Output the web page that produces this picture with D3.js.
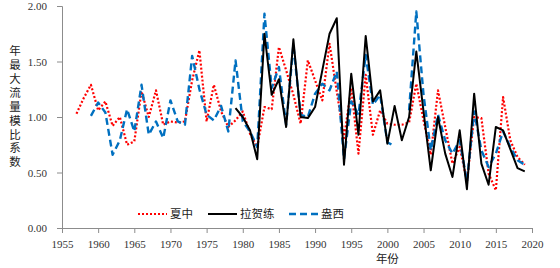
<!DOCTYPE html>
<html>
<head>
<meta charset="utf-8">
<script src="https://cdn.jsdelivr.net/npm/d3@7"></script>
<style>
  body { margin: 0; background: #fff; }
  .tick text { font-family: "Liberation Serif", "DejaVu Serif", serif; font-size: 11px; fill: #333; }
  .cjk { font-family: "Noto Sans CJK SC", sans-serif; font-size: 11.5px; fill: #222; }
</style>
</head>
<body>
<script>
// years per series
var yearsXZ = d3.range(1957, 2020),
    yearsYX = d3.range(1959, 2020),
    yearsLHL = d3.range(1979, 2020);

// 夏中
var xiazhong = [1.03, 1.17, 1.29, 1.06, 1.14, 0.92, 1.00, 0.75, 0.78, 1.23,
  1.00, 1.24, 0.93, 0.96, 0.95, 0.96, 1.33, 1.60, 0.96, 1.29,
  1.05, 0.91, 0.97, 1.05, 0.85, 0.73, 1.09, 1.07, 1.63, 1.42,
  1.20, 0.94, 1.51, 1.33, 1.15, 1.66, 1.23, 0.81, 1.26, 0.67,
  1.38, 0.84, 1.06, 0.94, 0.93, 0.93, 0.95, 1.30, 0.97, 0.66,
  1.24, 0.91, 0.58, 0.73, 0.42, 1.00, 0.99, 0.49, 0.34, 1.18,
  0.79, 0.64, 0.57];

// 盎西 (null = no value)
var angxi = [1.01, 1.13, 1.04, 0.66, 0.79, 1.07, 0.87, 1.29, 0.84, 0.96,
  0.81, 1.15, 0.96, 0.93, 1.55, 1.25, 1.02, 0.97, 1.10, 0.87,
  1.51, 0.96, 0.87, 0.73, 1.93, 1.26, 1.45, 0.93, 1.65, 1.02,
  1.00, 1.21, 1.30, 1.24, 1.41, 0.62, 1.14, 1.02, 1.56, 1.11,
  1.20, 0.77, 0.74, null, 1.06, 1.95, 1.20, 0.70, 1.02, 0.79,
  0.67, 0.79, 0.42, 1.05, 0.70, 0.55, 0.67, 0.87, 0.73, 0.61,
  0.57];

// 拉贺练
var lahelian = [1.08, 1.00, 0.88, 0.62, 1.75, 1.20, 1.34, 0.91, 1.70, 1.00,
  0.99, 1.09, 1.42, 1.75, 1.89, 0.57, 1.39, 0.84, 1.73, 1.14,
  1.24, 0.76, 1.10, 0.79, 1.00, 1.59, 1.05, 0.52, 1.00, 0.67,
  0.46, 0.88, 0.35, 1.21, 0.58, 0.39, 0.91, 0.88, 0.71, 0.54,
  0.51];

var xTicks = d3.range(1955, 2021, 5),
    yTicks = [0, 0.5, 1, 1.5, 2];

var names = ["夏中", "拉贺练", "盎西"];

var W = 560, H = 268;
var m = {left: 62, right: 28, top: 6, bottom: 40};

var x = d3.scaleLinear().domain([1955, 2020]).range([m.left, W - m.right]),
    y = d3.scaleLinear().domain([0, 2]).range([H - m.bottom, m.top]);

var svg = d3.select("body").append("svg")
    .attr("width", W)
    .attr("height", H);

// axes
var xAxis = svg.append("g")
    .attr("transform", "translate(0," + y(0) + ")")
    .call(d3.axisBottom(x).tickValues(xTicks).tickFormat(d3.format("d")).tickSizeOuter(0).tickSize(5));
var yAxis = svg.append("g")
    .attr("transform", "translate(" + x(1955) + ",0)")
    .call(d3.axisLeft(y).tickValues(yTicks).tickFormat(d3.format(".2f")).tickSizeOuter(0).tickSize(5).tickPadding(10));

svg.selectAll(".domain, .tick line").attr("stroke", "#8c8c8c");
xAxis.selectAll("text").attr("dy", "1.1em");

function mkLine(years) {
  return d3.line()
    .defined(function(d) { return d != null; })
    .x(function(d, i) { return x(years[i]); })
    .y(function(d) { return y(d); });
}

var series = [
  {name: names[0], data: xiazhong, years: yearsXZ, color: "#ff0000", dash: "2,2", width: 2.2},
  {name: names[1], data: lahelian, years: yearsLHL, color: "#000000", dash: null, width: 2},
  {name: names[2], data: angxi, years: yearsYX, color: "#0070c0", dash: "7,4", width: 2.4}
];

// red first, then blue, black on top
[series[0], series[2], series[1]].forEach(function(s) {
  svg.append("path")
      .datum(s.data)
      .attr("fill", "none")
      .attr("stroke", s.color)
      .attr("stroke-width", s.width)
      .attr("stroke-dasharray", s.dash)
      .attr("stroke-linejoin", "round")
      .attr("d", mkLine(s.years));
});

// legend
var legX = [138, 208, 289], legY = 214;
series.forEach(function(s, i) {
  var g = svg.append("g").attr("transform", "translate(" + legX[i] + "," + legY + ")");
  g.append("line")
      .attr("x1", 0).attr("x2", 29)
      .attr("stroke", s.color)
      .attr("stroke-width", s.width)
      .attr("stroke-dasharray", s.dash);
  g.append("text")
      .attr("class", "cjk")
      .attr("x", 32)
      .attr("dy", "0.35em")
      .text(s.name);
});

// axis titles
svg.append("text")
    .attr("class", "cjk")
    .attr("x", x(2000))
    .attr("y", 263)
    .attr("text-anchor", "middle")
    .text("年份");

// vertical y title, one text element
svg.append("text")
    .attr("class", "cjk")
    .attr("x", 15)
    .attr("y", 45)
    .style("writing-mode", "vertical-rl")
    .style("text-orientation", "upright")
    .style("letter-spacing", "2.4px")
    .text("年最大流量模比系数");
</script>
</body>
</html>
